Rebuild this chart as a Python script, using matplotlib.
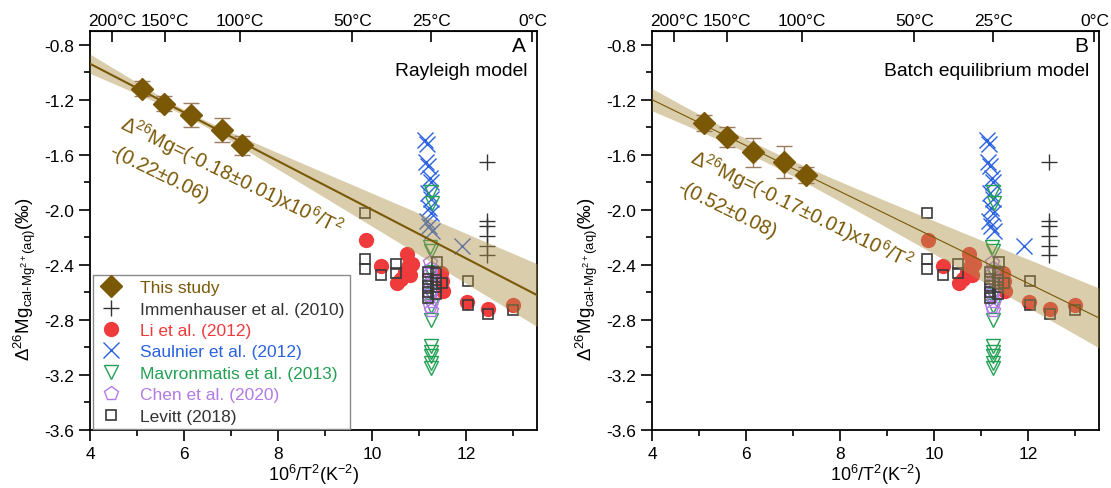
import numpy as np
import matplotlib.pyplot as plt
from matplotlib.ticker import MultipleLocator, FormatStrFormatter

plt.rcParams['font.family'] = ['Liberation Sans', 'DejaVu Sans']
plt.rcParams['mathtext.fontset'] = 'custom'
plt.rcParams['mathtext.rm'] = 'Liberation Sans'
plt.rcParams['mathtext.it'] = 'Liberation Sans:italic'
plt.rcParams['mathtext.bf'] = 'Liberation Sans:bold'
plt.rcParams['axes.unicode_minus'] = True

# this study, panel A (Rayleigh) and B (batch equilibrium)
ts_x_A = [5.10, 5.57, 6.15, 6.81, 7.23]
ts_y_A = [-1.12, -1.23, -1.31, -1.42, -1.53]
ts_e_A = [0.055, 0.055, 0.087, 0.09, 0.07]
ts_x_B = [5.10, 5.59, 6.15, 6.81, 7.28]
ts_y_B = [-1.37, -1.47, -1.58, -1.65, -1.75]
ts_e_B = [0.06, 0.07, 0.105, 0.116, 0.058]

# fits: slope, intercept, band half-width at mean, slope-term, mean x
fit_A = (-0.177, -0.23, 0.02, 0.031, 6.17)
fit_B = (-0.167, -0.531, 0.05, 0.029, 6.20)

immen_x = [12.44, 12.44, 12.44, 12.44, 12.44, 12.44]
immen_y = [-1.65, -2.08, -2.12, -2.19, -2.26, -2.33]

li_x = [9.87, 10.18, 10.52, 10.74, 10.84, 10.70, 10.81, 10.62, 10.77, 11.48, 11.51, 11.45, 12.02, 12.45, 12.98]
li_y = [-2.22, -2.41, -2.53, -2.32, -2.39, -2.45, -2.47, -2.50, -2.40, -2.52, -2.59, -2.46, -2.67, -2.72, -2.69]

saul_x = [11.12, 11.17, 11.14, 11.19, 11.23, 11.25, 11.19, 11.25, 11.21, 11.25, 11.16, 11.21, 11.27, 11.91]
saul_y = [-1.49, -1.52, -1.65, -1.68, -1.77, -1.80, -1.88, -1.92, -1.99, -2.02, -2.08, -2.12, -2.15, -2.26]

mavro_x = [11.25, 11.27, 11.22, 11.25, 11.25, 11.25, 11.25, 11.25, 11.25, 11.25, 11.25, 11.25, 11.25, 11.25]
mavro_y = [-1.87, -1.95, -2.27, -2.30, -2.45, -2.55, -2.62, -2.70, -2.80, -2.99, -3.03, -3.06, -3.11, -3.15]

chen_x = [11.22, 11.25, 11.22, 11.27, 11.22, 11.25, 11.22, 11.27, 11.22, 11.25]
chen_y = [-2.38, -2.42, -2.46, -2.50, -2.54, -2.58, -2.62, -2.66, -2.70, -2.73]

lev_x = [9.85, 9.85, 9.85, 10.18, 10.51, 10.51, 11.37, 11.19, 11.19, 11.19, 11.19, 11.19,
         11.36, 11.36, 11.36, 11.36, 11.49, 12.03, 12.03, 12.45, 12.99]
lev_y = [-2.02, -2.36, -2.43, -2.47, -2.39, -2.46, -2.38, -2.45, -2.50, -2.55, -2.60, -2.64,
         -2.46, -2.51, -2.56, -2.61, -2.53, -2.52, -2.69, -2.76, -2.73]

temps_C = [200, 150, 100, 50, 25, 0]

brown = '#7a5806'
fs = 12.5


def draw(ax, tx, ty, te, fit, lw, eq1, eq2, p1, p2, model, letter, legend=False):
    ax.plot(immen_x, immen_y, '+', color='#333333', ms=11, mew=1.0, ls='none',
            label='Immenhauser et al. (2010)', zorder=2)
    ax.plot(li_x, li_y, 'o', color='#ef3b3b', ms=11, mec='none', ls='none',
            label='Li et al. (2012)', zorder=2)
    ax.plot(saul_x, saul_y, 'x', color='#2a62e0', ms=11, mew=1.0, ls='none',
            label='Saulnier et al. (2012)', zorder=3)
    ax.plot(mavro_x, mavro_y, 'v', mfc='none', mec='#24a055', ms=10, mew=1.0, ls='none',
            label='Mavronmatis et al. (2013)', zorder=3)
    ax.plot(chen_x, chen_y, 'p', mfc='none', mec='#b27ae6', ms=10, mew=1.0, ls='none',
            label='Chen et al. (2020)', zorder=3)
    ax.plot(lev_x, lev_y, 's', mfc='none', mec='#3a3a3a', ms=6.5, mew=1.2, ls='none',
            label='Levitt (2018)', zorder=3)

    k, b, a0, a1, xm = fit
    xs = np.linspace(4, 13.5, 200)
    line = k * xs + b
    hw = np.sqrt(a0 ** 2 + (a1 * (xs - xm)) ** 2)
    ax.fill_between(xs, line - hw, line + hw, color='#ad9047', alpha=0.45, lw=0, zorder=4)
    ax.plot(xs, line, color=brown, lw=lw, zorder=5)

    ax.errorbar(tx, ty, yerr=te, fmt='none', ecolor='#9c7d62', elinewidth=1.0,
                capsize=6, capthick=1.0, zorder=6)
    ax.plot(tx, ty, 'D', color=brown, ms=11, ls='none', label='This study', zorder=7)

    ax.text(p1[0], p1[1], eq1, rotation=-26, rotation_mode='anchor', ha='left',
            va='baseline', color=brown, fontsize=14.3, zorder=8)
    ax.text(p2[0], p2[1], eq2, rotation=-26, rotation_mode='anchor', ha='left',
            va='baseline', color=brown, fontsize=14.3, zorder=8)

    ax.text(0.975, 0.988, letter, transform=ax.transAxes, ha='right', va='top', fontsize=15)
    ax.text(0.978, 0.90, model, transform=ax.transAxes, ha='right', va='center', fontsize=13.9)

    ax.set_xlim(4, 13.5)
    ax.set_ylim(-3.6, -0.7)
    ax.xaxis.set_major_locator(MultipleLocator(2))
    ax.xaxis.set_minor_locator(MultipleLocator(1))
    ax.yaxis.set_major_locator(MultipleLocator(0.4))
    ax.yaxis.set_minor_locator(MultipleLocator(0.2))
    ax.yaxis.set_major_formatter(FormatStrFormatter('%.1f'))
    ax.tick_params(which='major', length=8, width=1.2, labelsize=fs, direction='out')
    ax.tick_params(which='minor', length=4, width=1.2, direction='out')
    for s in ax.spines.values():
        s.set_linewidth(1.3)

    sec = ax.secondary_xaxis('top')
    sec.set_xticks([1e6 / (t + 273.15) ** 2 for t in temps_C],
                   labels=['%d°C' % t for t in temps_C])
    sec.tick_params(direction='in', length=8, width=1.2, labelsize=fs, pad=2)
    sec.xaxis.set_minor_locator(plt.NullLocator())

    ax.set_xlabel('10$^6$/T$^2$(K$^{-2}$)', fontsize=13, labelpad=1)
    ax.set_ylabel(r'$\Delta^{26}$Mg$_{\mathrm{cal\text{-}Mg^{2+}(aq)}}$(‰)', fontsize=13.5, labelpad=4)
    ax.yaxis.label.set_y(0.38)

    if legend:
        h, l = ax.get_legend_handles_labels()
        order = [6, 0, 1, 2, 3, 4, 5]
        leg = ax.legend([h[i] for i in order], [l[i] for i in order], loc='lower left',
                        bbox_to_anchor=(0.007, 0.003), borderaxespad=0, fontsize=fs,
                        labelspacing=0.36, handletextpad=0.9, handlelength=1.5,
                        borderpad=0.3, fancybox=False, edgecolor='#8a8a8a', framealpha=1)
        leg.get_frame().set_linewidth(1.0)
        leg.set_zorder(10)
        cols = [brown, '#333333', '#ef3b3b', '#2a62e0', '#24a055', '#b27ae6', '#333333']
        for t, c in zip(leg.get_texts(), cols):
            t.set_color(c)


fig = plt.figure(figsize=(11.11, 4.89), dpi=100)
ax1 = fig.add_axes([90 / 1111, 58 / 489, 447 / 1111, 399 / 489])
ax2 = fig.add_axes([652 / 1111, 58 / 489, 447 / 1111, 399 / 489])

draw(ax1, ts_x_A, ts_y_A, ts_e_A, fit_A, 1.5,
     'Δ$^{26}$Mg=(-0.18±0.01)x10$^6$/T$^2$', '-(0.22±0.06)',
     (4.60, -1.40), (4.375, -1.60), 'Rayleigh model', 'A', legend=True)
draw(ax2, ts_x_B, ts_y_B, ts_e_B, fit_B, 0.8,
     'Δ$^{26}$Mg=(-0.17±0.01)x10$^6$/T$^2$', '-(0.52±0.08)',
     (4.77, -1.65), (4.51, -1.86), 'Batch equilibrium model', 'B')

fig.savefig('out.png', dpi=100)
